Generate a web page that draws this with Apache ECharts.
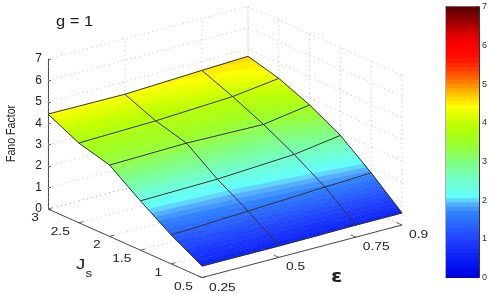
<!DOCTYPE html>
<html><head><meta charset="utf-8">
<style>html,body{margin:0;padding:0;background:#fff}#c{width:491px;height:294px}</style>
<script src="https://cdn.jsdelivr.net/npm/echarts@6/dist/echarts.min.js"></script>
</head><body><div id="c"></div>
<script>
// ---- data ----
const jsValues  = [0.5, 1, 1.5, 2, 2.5, 3];
const epsValues = [0.25, 0.5, 0.75, 0.9];
const fanoJs05 = [0.54, 0.53, 0.56, 0.56];
const fanoJs10 = [1.35, 1.52, 1.70, 1.79];
const fanoJs15 = [2.30, 2.37, 2.58, 2.90];
const fanoJs20 = [3.33, 3.41, 3.34, 3.68];
const fanoJs25 = [3.72, 3.81, 4.00, 4.28];
const fanoJs30 = [4.43, 4.41, 4.58, 4.67];
const fano = [fanoJs05, fanoJs10, fanoJs15, fanoJs20, fanoJs25, fanoJs30];
const jsLabels  = ['0.5', '1', '1.5', '2', '2.5', '3'];
const epsLabels = ['0.25', '0.5', '0.75', '0.9'];
const zTicks = [0, 1, 2, 3, 4, 5, 6, 7];
// colour-map stops: level -> colour
const cmapLevels = [0, 0.3, 1.0, 1.7, 1.9, 2.0, 2.1, 2.5, 3.0, 3.57, 4.0, 4.45, 4.7, 5.0, 5.37, 5.7, 6.0, 6.3, 6.6, 7];
const cmapColors = ['#0000d0','#0010f0','#2040ff','#3080ff','#50a8ff','#60c8ff','#60ffff','#70ffd0','#80ff80','#a0ff20','#c0ff00','#ffff00','#ffd000','#ff9000','#ff4000','#ff1000','#ff0000','#e00000','#a00000','#5a0000'];

// ---- oblique projection of the box ----
const origin = [202, 277.6], epsSpan = [200, -52.6], jsSpan = [-154, -68.6], zUnit = 21.43;
function proj(js, eps, z) {
  const a = (eps - 0.25) / 0.65, b = (js - 0.5) / 2.5;
  return [origin[0] + a * epsSpan[0] + b * jsSpan[0], origin[1] + a * epsSpan[1] + b * jsSpan[1] - z * zUnit];
}
const LEVELS = 64, STEP = 7 / LEVELS;
function hex(c){return [parseInt(c.slice(1,3),16),parseInt(c.slice(3,5),16),parseInt(c.slice(5,7),16)];}
const bands = [];
for (let k = 0; k < LEVELS; k++) {
  const v = (k + 0.5) * STEP;
  let i = 0; while (i < cmapLevels.length - 2 && v > cmapLevels[i + 1]) i++;
  const t = (v - cmapLevels[i]) / (cmapLevels[i + 1] - cmapLevels[i]);
  const A = hex(cmapColors[i]), B = hex(cmapColors[i + 1]);
  bands.push(`rgb(${A.map((x, n) => Math.round(x + (B[n] - x) * t)).join(',')})`);
}

// ---- helpers ----
const series = [];
function polyline(pts, color, width, type, z) {
  series.push({type:'line', xAxisIndex:0, yAxisIndex:0, data:pts, showSymbol:false, silent:true, animation:false, z:z,
    lineStyle:{color:color, width:width, type:type}, clip:false});
}
const DOT = [1, 3.5], GRID = '#b0b0b0', AX = '#4a4a4a', MESH = '#333333', JSMIN = 0.5, JSMAX = 3, EMIN = 0.25, EMAX = 0.9, ZMAX = 7;
zTicks.forEach(z => {
  polyline([proj(JSMAX,EMIN,z), proj(JSMAX,EMAX,z), proj(JSMIN,EMAX,z)], GRID, 0.8, DOT, 1);
});
epsValues.forEach(e => {
  polyline([proj(JSMIN,e,0), proj(JSMAX,e,0), proj(JSMAX,e,ZMAX)], GRID, 0.8, DOT, 1);
});
jsValues.forEach(j => {
  polyline([proj(j,EMIN,0), proj(j,EMAX,0), proj(j,EMAX,ZMAX)], GRID, 0.8, DOT, 1);
});
polyline([proj(JSMAX,EMIN,0), proj(JSMIN,EMIN,0), proj(JSMIN,EMAX,0)], AX, 1, 'solid', 2);
jsValues.forEach(j => polyline([proj(j,EMIN,0), proj(j,EMIN+0.014,0)], AX, 0.8, 'solid', 2));
epsValues.forEach(e => polyline([proj(JSMIN,e,0), proj(JSMIN+0.08,e,0)], AX, 0.8, 'solid', 2));

// clip a polygon [{p,z}] to the slab lo<=z<=hi
function clipSlab(poly, lo, hi) {
  const cut = (pts, keep, lim) => {
    const out = [];
    pts.forEach((a, n) => {
      const b = pts[(n + 1) % pts.length], ka = keep(a.z), kb = keep(b.z);
      if (ka) out.push(a);
      if (ka !== kb) {
        const t = (lim - a.z) / (b.z - a.z);
        out.push({z:lim, p:[a.p[0]+(b.p[0]-a.p[0])*t, a.p[1]+(b.p[1]-a.p[1])*t]});
      }
    });
    return out;
  };
  const r = cut(poly, z => z >= lo, lo);
  return r.length ? cut(r, z => z <= hi, hi) : r;
}

// surface: every mesh cell is cut into the 64 colour bands
const cells = [];
for (let i = 0; i < jsValues.length - 1; i++) for (let j = 0; j < epsValues.length - 1; j++) cells.push([i, j]);
const SUB = 5;
series.push({type:'custom', xAxisIndex:0, yAxisIndex:0, data:cells, z:3, silent:true, animation:false, clip:false,
  renderItem(p, api) {
    const i = api.value(0), j = api.value(1), pieces = [];
    const j0 = jsValues[i], j1 = jsValues[i+1], e0 = epsValues[j], e1 = epsValues[j+1];
    const f = (u, v) => {
      const z = (1-u)*(1-v)*fano[i][j] + u*(1-v)*fano[i][j+1] + (1-u)*v*fano[i+1][j] + u*v*fano[i+1][j+1];
      return {z, p:api.coord(proj(j0+(j1-j0)*v, e0+(e1-e0)*u, z))};
    };
    for (let a = 0; a < SUB; a++) for (let b = 0; b < SUB; b++) {
      const A = f(a/SUB,b/SUB), B = f((a+1)/SUB,b/SUB), C = f((a+1)/SUB,(b+1)/SUB), D = f(a/SUB,(b+1)/SUB);
      [[A,B,C],[A,C,D]].forEach(tri => {
        const zs = tri.map(q => q.z);
        const k0 = Math.floor(Math.min(...zs)/STEP), k1 = Math.floor(Math.max(...zs)/STEP);
        for (let k = k0; k <= k1; k++) {
          const poly = clipSlab(tri, k*STEP, (k+1)*STEP);
          if (poly.length > 2) pieces.push({k, pts:poly.map(q => q.p)});
        }
      });
    }
    pieces.sort((a, b) => a.k - b.k);
    return {type:'group', children:pieces.map(q => ({type:'polygon', shape:{points:q.pts},
      style:{fill:bands[q.k], stroke:bands[q.k], lineWidth:0.6}}))};
  }, encode:{x:0,y:1}});

// mesh lines
jsValues.forEach((js, i) => polyline(epsValues.map((e, j) => proj(js, e, fano[i][j])), MESH, 1, 'solid', 4));
epsValues.forEach((e, j) => polyline(jsValues.map((js, i) => proj(js, e, fano[i][j])), MESH, 1, 'solid', 4));

// texts on the oblique axes
const texts = [];
jsLabels.forEach((t, i) => { const q = proj(jsValues[i], EMIN, 0); texts.push({t, x:q[0]-9, y:q[1]+9, align:'right', size:11, sx:1.25}); });
epsLabels.forEach((t, i) => { const q = proj(JSMIN, epsValues[i], 0); texts.push({t, x:q[0]+7, y:q[1]+10, align:'left', size:11, sx:1.25}); });
texts.push({t:'g = 1', x:56, y:22, align:'left', size:14, sx:1.18});
texts.push({t:'J', x:76, y:265, align:'left', size:15.5, sx:1.2});
texts.push({t:'s', x:85.5, y:274, align:'left', size:11, sx:1.2});
texts.push({t:'ε', x:331, y:277, align:'left', size:18, sx:1.15, font:'DejaVu Sans', weight:'bold'});
texts.push({t:'Fano Factor', x:11, y:133.5, align:'center', size:10.6, sx:1, sy:1.2, rot:Math.PI/2});
series.push({type:'custom', xAxisIndex:0, yAxisIndex:0, data:texts.map((_, i) => [i]), z:6, silent:true, animation:false, clip:false,
  renderItem(p, api) {
    const d = texts[api.value(0)];
    const c = api.coord([d.x, d.y]);
    return {type:'text', x:c[0], y:c[1], scaleX:d.sx, scaleY:d.sy||1, rotation:d.rot||0,
      style:{text:d.t, textAlign:d.align, textVerticalAlign:'middle', fill:'#222',
             font:`${d.weight||'normal'} ${d.size}px ${d.font||'"Liberation Sans"'}`}};
  }, encode:{x:0,y:0}});

// colour bar
series.push({type:'custom', xAxisIndex:2, yAxisIndex:2, data:bands.map((_, k) => [k]), z:1, silent:true, animation:false,
  renderItem(p, api) {
    const k = api.value(0);
    const a = api.coord([0, k*STEP]), b = api.coord([1, (k+1)*STEP]);
    return {type:'rect', shape:{x:a[0], y:b[1], width:b[0]-a[0], height:Math.min(a[1]-b[1]+1, 278-b[1])}, style:{fill:bands[k]}};
  }, encode:{x:0,y:0}});

const barEdge = pos => ({type:'value', min:0, max:1, gridIndex:2, position:pos, splitLine:{show:false},
  axisLine:{show:true, onZero:false, lineStyle:{color:'#888', width:1}}, axisTick:{show:false}, axisLabel:{show:false}});
const option = {
  animation:false, backgroundColor:'#fff',
  textStyle:{fontFamily:'"Liberation Sans"'},
  grid:[
    {left:0, top:0, width:491, height:294},
    {left:48, top:59, width:1, height:150},
    {left:446, top:6.7, width:33, height:271}
  ],
  xAxis:[
    {type:'value', min:0, max:491, show:false, gridIndex:0},
    {type:'value', min:0, max:1, show:false, gridIndex:1},
    barEdge('bottom'),
    barEdge('top')
  ],
  yAxis:[
    {type:'value', min:0, max:294, inverse:true, show:false, gridIndex:0},
    {type:'value', min:0, max:7, interval:1, gridIndex:1, position:'left', splitLine:{show:false},
     axisLine:{show:true, onZero:false, lineStyle:{color:AX, width:1}},
     axisTick:{show:true, inside:true, length:3, lineStyle:{color:AX, width:0.8}},
     axisLabel:{color:'#222', fontSize:12, margin:6, fontFamily:'"Liberation Sans"'}},
    {type:'value', min:0, max:7, interval:1, gridIndex:2, position:'right', splitLine:{show:false},
     axisLine:{show:true, onZero:false, lineStyle:{color:'#333', width:1}},
     axisTick:{show:true, inside:true, length:3, lineStyle:{color:'#444', width:0.8}},
     axisLabel:{color:'#333', fontSize:9, margin:3, fontFamily:'"Liberation Sans"'}},
    {type:'value', min:0, max:7, interval:1, gridIndex:2, position:'left', splitLine:{show:false},
     axisLine:{show:true, onZero:false, lineStyle:{color:'#999', width:1.5}},
     axisTick:{show:true, inside:true, length:3, lineStyle:{color:'#666', width:0.8}},
     axisLabel:{show:false}}
  ],
  series:series
};
series.push({type:'line', xAxisIndex:1, yAxisIndex:1, data:[], silent:true});
const chart = echarts.init(document.getElementById('c'), null, {renderer:'canvas', width:491, height:294});
chart.setOption(option);
</script></body></html>
